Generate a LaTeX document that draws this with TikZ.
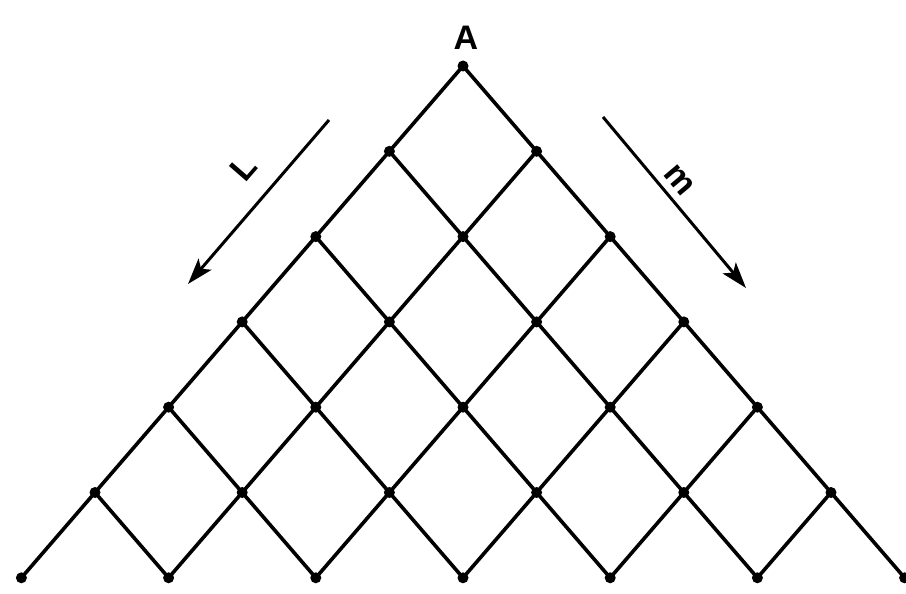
\documentclass[tikz,border=0pt]{standalone}
\usepackage{fontspec}
\setmainfont{Liberation Sans}
\usetikzlibrary{arrows.meta}
\begin{document}
\begin{tikzpicture}[x=1pt,y=-1pt,
  dot/.style={circle,fill=black,inner sep=0pt,minimum size=11pt},
  edge/.style={line width=3.6pt,black},
  dirarrow/.style={line width=3pt,-{Stealth[length=26pt,width=17pt,inset=6pt]}},
  lbl/.style={font=\fontsize{34}{36}\selectfont\bfseries,inner sep=0pt}]
\useasboundingbox (0,0) rectangle (906,594);
\foreach \r in {0,...,6}{
  \foreach \k in {0,...,\r}{
    \node[dot] (p-\r-\k) at ({463+(2*\k-\r)*73.6},{66+\r*85.3}) {};
  }
}
\foreach \r in {0,...,5}{
  \pgfmathtruncatemacro{\rn}{\r+1}
  \foreach \k in {0,...,\r}{
    \pgfmathtruncatemacro{\kn}{\k+1}
    \draw[edge] (p-\r-\k.center) -- (p-\rn-\k.center);
    \draw[edge] (p-\r-\k.center) -- (p-\rn-\kn.center);
  }
}
\node[lbl,anchor=base] (A) at (466,50) {A};
\coordinate (L1) at (329,120);
\coordinate (L2) at (188,284);
\draw[dirarrow] (L1) -- (L2);
\node[lbl,rotate=49] (Ll) at (243,168) {L};
\coordinate (m1) at (603,117);
\coordinate (m2) at (746,288);
\draw[dirarrow] (m1) -- (m2);
\node[lbl,rotate=-50] (ml) at (679,180) {m};
\end{tikzpicture}
\end{document}
